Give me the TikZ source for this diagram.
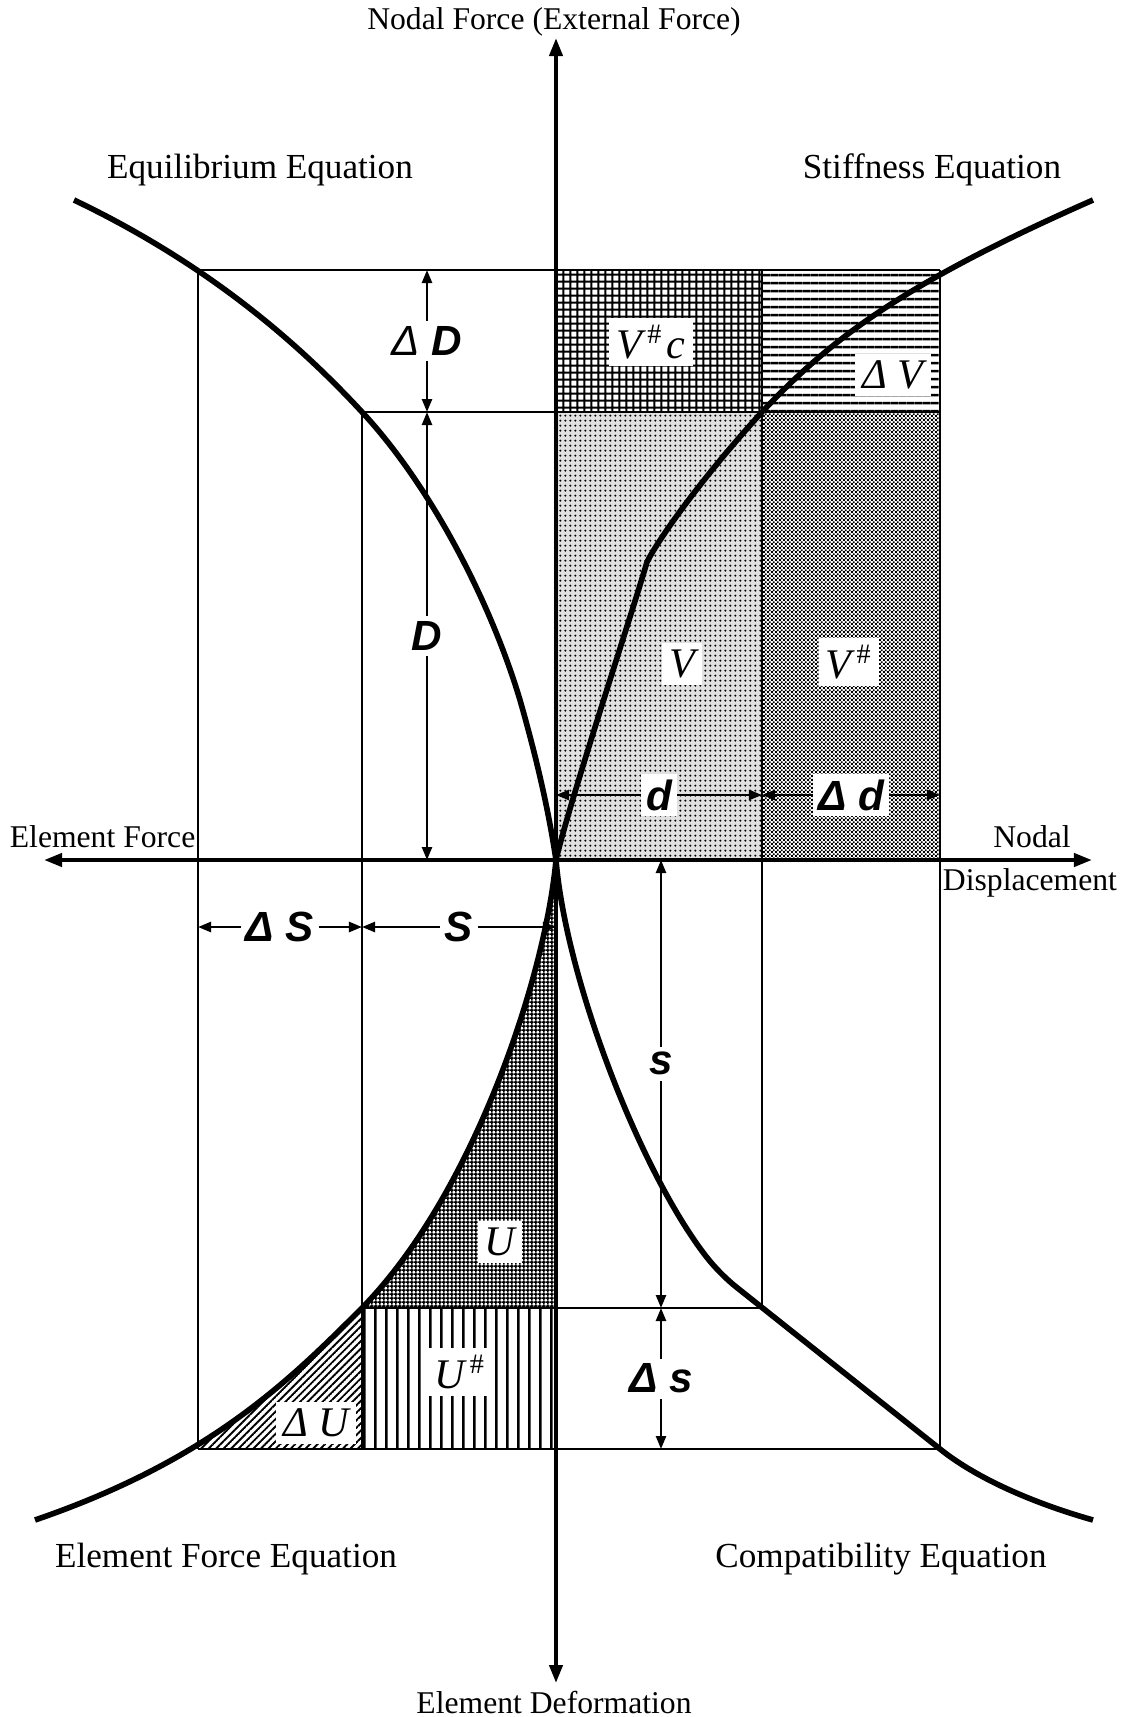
\documentclass[tikz,border=0pt]{standalone}
\usepackage{fontspec}
\setmainfont{Liberation Serif}
\setsansfont{Liberation Sans}
\usetikzlibrary{arrows.meta,patterns,patterns.meta}
\tikzdeclarepattern{name=fegrid, type=uncolored, bounding box={(0pt,0pt) and (2.1pt,2.1pt)}, tile size={(2.1pt,2.1pt)},
  code={\draw[line width=.6pt] (0pt,1.05pt) -- (2.1pt,1.05pt) (1.05pt,0pt) -- (1.05pt,2.1pt);}}
\tikzdeclarepattern{name=fegridfine, type=uncolored, bounding box={(0pt,0pt) and (1.2pt,1.2pt)}, tile size={(1.2pt,1.2pt)},
  code={\draw[line width=.5pt] (0pt,.6pt) -- (1.2pt,.6pt) (.6pt,0pt) -- (.6pt,1.2pt);}}
\tikzdeclarepattern{name=fehlines, type=uncolored, bounding box={(0pt,0pt) and (2.36pt,2.36pt)}, tile size={(2.36pt,2.36pt)},
  code={\draw[line width=.8pt] (0pt,1.18pt) -- (2.36pt,1.18pt);}}
\tikzdeclarepattern{name=fevlines, type=uncolored, bounding box={(0pt,0pt) and (3.1pt,3.1pt)}, tile size={(3.1pt,3.1pt)},
  code={\draw[line width=.7pt] (1.55pt,0pt) -- (1.55pt,3.1pt);}}
\tikzdeclarepattern{name=fediag, type=uncolored, bounding box={(0pt,-.3pt) and (1.5pt,.3pt)}, tile size={(1.5pt,1.5pt)},
  tile transformation={rotate=45}, code={\draw[line width=.55pt] (0pt,0pt) -- (1.5pt,0pt);}}
\tikzdeclarepattern{name=fechk, type=uncolored, bounding box={(0pt,0pt) and (1.2pt,1.2pt)}, tile size={(1.2pt,1.2pt)},
  code={\fill (0pt,0pt) rectangle (.6pt,.6pt) (.6pt,.6pt) rectangle (1.2pt,1.2pt);}}
\tikzdeclarepattern{name=fedots, type=uncolored, bounding box={(0pt,0pt) and (1.5pt,1.5pt)}, tile size={(1.5pt,1.5pt)},
  code={\fill (.75pt,.75pt) circle (.36pt);}}
\tikzset{
  fe axis/.style={draw=black, line width=1.15pt, {Triangle[length=1.8mm,width=1.3mm]}-{Triangle[length=1.8mm,width=1.3mm]}},
  fe curve/.style={draw=black, line width=1.6pt, line join=round},
  fe thin/.style={draw=black, line width=.55pt},
  fe dim/.style={draw=black, line width=.7pt, {Triangle[length=1.3mm,width=1mm]}-{Triangle[length=1.3mm,width=1mm]}},
  fe dimlab/.style={fill=white, inner sep=1.5pt, font=\fontsize{12}{14}\sffamily\bfseries\itshape},
  fe sym/.style={fill=white, inner sep=2pt, font=\fontsize{12}{14}\selectfont\itshape},
  fe text/.style={inner sep=0pt, font=\fontsize{9}{11}\selectfont},
  fe title/.style={inner sep=0pt, font=\fontsize{10}{12}\selectfont},
}

\begin{document}
\begin{tikzpicture}[x=.01cm,y=-.01cm]
  \useasboundingbox (0,0) rectangle (1129,1717);
  \coordinate (O) at (556,860);
  % shaded areas
  \fill[pattern=fegrid] (556,270) rectangle (762,412);
  \fill[pattern=fehlines] (762,270) rectangle (940,412);
  \fill[black!12, postaction={pattern=fedots}] (556,412) rectangle (762,860);
  \fill[pattern=fechk] (762,412) rectangle (940,860);
  \fill[pattern=fevlines] (362,1308) rectangle (556,1449);
  \begin{scope}
    \clip (O) .. controls (545,980) and (472,1196) .. (362,1308) .. controls (290,1380) and (210,1460) .. (35,1520) -- (556,1520) -- cycle;
    \fill[pattern=fegridfine] (362,860) rectangle (556,1308);
    \fill[pattern=fediag] (198,1308) rectangle (362,1449);
  \end{scope}
  % frame lines
  \foreach \y/\a/\b in {270/198/940, 412/362/940, 1308/362/762, 1449/198/940}{\draw[fe thin] (\a,\y) -- (\b,\y);}
  \foreach \x/\a/\b in {198/270/1449, 362/412/1449, 762/270/1308, 940/270/1449}{\draw[fe thin] (\x,\a) -- (\x,\b);}
  % the four curves
  \draw[fe curve] (74,200) .. controls (210,265) and (300,345) .. (362,412) .. controls (430,485) and (490,600) .. (520,700) .. controls (540,770) and (550,820) .. (O);
  \draw[fe curve] (O) .. controls (570,800) and (630,620) .. (647,562) .. controls (658,540) and (700,480) .. (762,412) .. controls (830,340) and (900,285) .. (1093,200);
  \draw[fe curve] (O) .. controls (545,980) and (472,1196) .. (362,1308) .. controls (290,1380) and (210,1460) .. (35,1520);
  \draw[fe curve] (O) .. controls (566,980) and (640,1170) .. (705,1255) .. controls (715,1268) and (727,1280) .. (740,1290) -- (940,1449) .. controls (980,1481) and (1040,1505) .. (1093,1520);
  % axes
  \coordinate (xl) at (44,860); \coordinate (xr) at (1092,860);
  \coordinate (yt) at (556,38); \coordinate (yb) at (556,1683);
  \draw[fe axis] (xl) -- (xr);
  \draw[fe axis] (yb) -- (yt);
  % dimension arrows
  \coordinate (D0) at (427,860); \coordinate (D1) at (427,412); \coordinate (D2) at (427,270);
  \coordinate (d0) at (556,795); \coordinate (d1) at (762,795); \coordinate (d2) at (940,795);
  \coordinate (s0) at (661,860); \coordinate (s1) at (661,1308); \coordinate (s2) at (661,1449);
  \coordinate (S0) at (556,927); \coordinate (S1) at (362,927); \coordinate (S2) at (198,927);
  \draw[fe dim] (D0) -- node[fe dimlab] {D} (D1);
  \draw[fe dim] (D1) -- node[fe dimlab] {{\mdseries Δ}\ D} (D2);
  \draw[fe dim] (d0) -- node[fe dimlab] {d} (d1);
  \draw[fe dim] (d1) -- node[fe dimlab] {Δ\ d} (d2);
  \draw[fe dim] (s0) -- node[fe dimlab, pos=.455] {s} (s1);
  \draw[fe dim] (s1) -- node[fe dimlab] {Δ\ s} (s2);
  \draw[fe dim] (S0) -- node[fe dimlab] {S} (S1);
  \draw[fe dim] (S1) -- node[fe dimlab] {Δ\ S} (S2);
  % area labels
  \node[fe sym] (vc) at (651,342) {V\kern1.5pt\textsuperscript{\upshape\#}\kern1pt c};
  \node[fe sym] (dv) at (893,375) {Δ V};
  \node[fe sym] (v) at (682,664) {V};
  \node[fe sym] (vh) at (849,662) {V\kern1.5pt\textsuperscript{\upshape\#}};
  \node[fe sym] (u) at (500,1242) {U};
  \node[fe sym] (uh) at (460,1372) {U\kern1.5pt\textsuperscript{\upshape\#}};
  \node[fe sym] (du) at (316,1423) {Δ U};
  % axis and curve names
  \node[fe text] (nf) at (554,22) {Nodal Force (External Force)};
  \node[fe title] (eq) at (260,170) {Equilibrium Equation};
  \node[fe title] (st) at (932,170) {Stiffness Equation};
  \node[fe text, anchor=east] (ef) at (196,837) {Element Force};
  \node[fe text] (nd) at (1032,837) {Nodal};
  \node[fe text] (dp) at (1030,883) {Displacement};
  \node[fe title] (efe) at (226,1559) {Element Force Equation};
  \node[fe title] (ce) at (881,1559) {Compatibility Equation};
  \node[fe text] (ed) at (554,1702) {Element Deformation};
\end{tikzpicture}
\end{document}
